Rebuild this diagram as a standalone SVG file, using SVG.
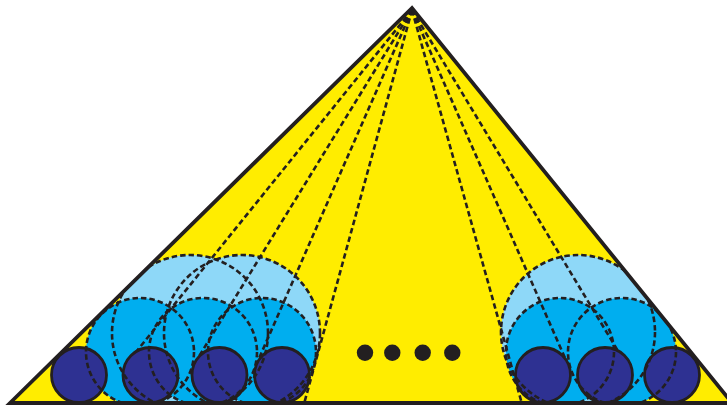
<svg xmlns="http://www.w3.org/2000/svg" width="727" height="405" viewBox="0 0 727 405">
<style>
.light{fill:#8ED8F8}
.mid{fill:#00AEEF}
.dark{fill:#2E3192;stroke:#231F20;stroke-width:2.8}
.ring{fill:none;stroke:#231F20;stroke-width:2.6;stroke-dasharray:5.5 3}
.ray{fill:none;stroke:#231F20;stroke-width:2.6;stroke-dasharray:5.5 3.2}
.dot{fill:#231F20}
</style>
<defs>
<clipPath id="tri"><polygon points="412,8 10,403 732,403"/></clipPath>
</defs>
<polygon id="pyramid" points="412,8 10,403 732,403" fill="#FFED00"/>
<g clip-path="url(#tri)">
  <g id="light-left-1"><circle class="light" cx="190" cy="333" r="78"/></g>
  <g id="light-left-2"><circle class="light" cx="242" cy="333" r="78"/></g>
  <g id="light-right-1"><circle class="light" cx="578" cy="332" r="77"/></g>
  <g id="mid-left-1"><circle class="mid" cx="140" cy="352" r="54"/></g>
  <g id="mid-left-2"><circle class="mid" cx="203" cy="352" r="54"/></g>
  <g id="mid-left-3"><circle class="mid" cx="262" cy="352" r="54"/></g>
  <g id="mid-right-1"><circle class="mid" cx="560" cy="352" r="54"/></g>
  <g id="mid-right-2"><circle class="mid" cx="622" cy="352" r="54"/></g>
  <g id="connectors">
    <line class="ray" x1="412" y1="10" x2="136" y2="352"/>
    <line class="ray" x1="412" y1="10" x2="198" y2="358"/>
    <line class="ray" x1="412" y1="10" x2="257" y2="363"/>
    <line class="ray" x1="412" y1="10" x2="304" y2="404"/>
    <line class="ray" x1="412" y1="10" x2="522" y2="404"/>
    <line class="ray" x1="412" y1="10" x2="565" y2="358"/>
    <line class="ray" x1="412" y1="10" x2="618" y2="351"/>
  </g>
  <g id="dark-left-1"><circle class="dark" cx="79" cy="375" r="27.5"/></g>
  <g id="dark-left-2"><circle class="dark" cx="150.5" cy="375" r="27.5"/></g>
  <g id="dark-left-3"><circle class="dark" cx="219.5" cy="375" r="27.5"/></g>
  <g id="dark-left-4"><circle class="dark" cx="282" cy="375" r="27.5"/></g>
  <g id="dark-right-1"><circle class="dark" cx="543" cy="375" r="27.5"/></g>
  <g id="dark-right-2"><circle class="dark" cx="605" cy="375" r="27.5"/></g>
  <g id="dark-right-3"><circle class="dark" cx="672" cy="375" r="27.5"/></g>
  <g id="outlines">
    <circle class="ring" cx="190" cy="333" r="78"/>
    <circle class="ring" cx="242" cy="333" r="78"/>
    <circle class="ring" cx="578" cy="332" r="77"/>
    <circle class="ring" cx="140" cy="352" r="54"/>
    <circle class="ring" cx="203" cy="352" r="54"/>
    <circle class="ring" cx="262" cy="352" r="54"/>
    <circle class="ring" cx="560" cy="352" r="54"/>
    <circle class="ring" cx="622" cy="352" r="54"/>
  </g>
</g>
<polygon points="412,8 10,403 732,403" fill="none" stroke="#231F20" stroke-width="3.8" stroke-linejoin="miter"/>
<g id="ellipsis">
  <circle class="dot" cx="365" cy="352.7" r="8.2"/>
  <circle class="dot" cx="392.3" cy="352.7" r="8.2"/>
  <circle class="dot" cx="422.7" cy="352.7" r="8.2"/>
  <circle class="dot" cx="452.3" cy="352.7" r="8.2"/>
</g>
</svg>
